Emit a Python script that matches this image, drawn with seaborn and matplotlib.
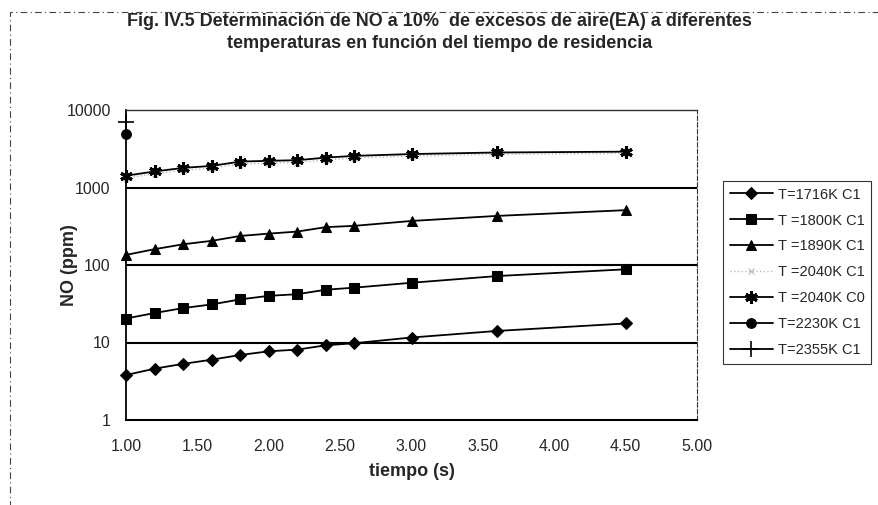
import matplotlib
matplotlib.use("Agg")
import matplotlib.pyplot as plt
import matplotlib.ticker as mticker
from matplotlib.patches import Rectangle
import seaborn as sns
import pandas as pd

tiempo = [1.0, 1.2, 1.4, 1.6, 1.8, 2.0, 2.2, 2.4, 2.6, 3.0, 3.6, 4.5]
no_1716_c1 = [3.8, 4.6, 5.3, 6.0, 6.9, 7.7, 8.1, 9.2, 9.8, 11.6, 14.1, 17.6]
no_1800_c1 = [20.4, 24, 27.8, 31, 36, 40, 42, 48, 51, 59, 72, 88]
no_1890_c1 = [135, 160, 185, 205, 237, 254, 270, 308, 320, 370, 430, 510]
no_2040_c1 = [1330, 1500, 1660, 1780, 2000, 2070, 2100, 2270, 2400, 2550, 2680, 2760]
no_2040_c0 = [1420, 1610, 1790, 1900, 2160, 2210, 2250, 2430, 2560, 2700, 2830, 2900]
tiempo_single = [1.0]
no_2230_c1 = [4900]
no_2355_c1 = [6900]

labels = ["T=1716K C1", "T =1800K C1", "T =1890K C1", "T =2040K C1",
          "T =2040K C0", "T=2230K C1", "T=2355K C1"]
x_ticks = [1.00, 1.50, 2.00, 2.50, 3.00, 3.50, 4.00, 4.50, 5.00]
y_ticks = [1, 10, 100, 1000, 10000]

sns.set_theme(style="white")
plt.rcParams['font.family'] = ['Liberation Sans', 'DejaVu Sans']

fig = plt.figure(figsize=(8.79, 5.05), dpi=100)
ax = fig.add_axes([126/879, 1-420/505, (697-126)/879, (420-110)/505])

series = [
    (tiempo, no_1716_c1, labels[0], dict(marker='D', markersize=6.5, color='black', linewidth=1.3)),
    (tiempo, no_1800_c1, labels[1], dict(marker='s', markersize=6.5, color='black', linewidth=1.3)),
    (tiempo, no_1890_c1, labels[2], dict(marker='^', markersize=7.5, color='black', linewidth=1.3)),
    (tiempo, no_2040_c1, labels[3], dict(marker='x', markersize=4, color='#bbbbbb', linewidth=1.0,
                                         linestyle=':', markeredgewidth=0.8)),
    (tiempo, no_2040_c0, labels[4], dict(marker=(6, 2, 0), markersize=9, color='black', linewidth=1.3,
                                         markeredgewidth=2.2)),
    (tiempo_single, no_2230_c1, labels[5], dict(marker='o', markersize=7, color='black', linewidth=1.3)),
    (tiempo_single, no_2355_c1, labels[6], dict(marker='+', markersize=11, color='black', linewidth=1.3,
                                                markeredgewidth=1.2)),
]

for xs, ys, lab, kw in series:
    df = pd.DataFrame({"tiempo": xs, "NO": ys})
    ls = kw.pop('linestyle', '-')
    sns.lineplot(data=df, x="tiempo", y="NO", ax=ax, label=lab, linestyle=ls,
                 markeredgecolor=kw['color'], markerfacecolor=kw['color'],
                 clip_on=False, zorder=3, **kw)

ax.set_yscale('log')
ax.set_xlim(1.0, 5.0)
ax.set_ylim(1, 10000)
ax.set_xticks(x_ticks)
ax.set_yticks(y_ticks)
ax.xaxis.set_major_formatter(mticker.FormatStrFormatter('%.2f'))
ax.yaxis.set_major_formatter(mticker.FuncFormatter(lambda v, p: f"{int(round(v))}"))
ax.yaxis.set_minor_locator(mticker.NullLocator())
ax.tick_params(axis='both', which='major', labelsize=11.5, direction='inout', length=6,
               width=1, color='black', pad=8)
ax.tick_params(axis='x', pad=11)

for yv in y_ticks[1:-1]:
    ax.axhline(yv, color='black', linewidth=1.5, zorder=0)

ax.spines['left'].set_color('black')
ax.spines['left'].set_linewidth(1.3)
ax.spines['bottom'].set_color('black')
ax.spines['bottom'].set_linewidth(1.5)
ax.spines['top'].set_color('#333333')
ax.spines['top'].set_linewidth(1.0)
ax.spines['right'].set_color('#333333')
ax.spines['right'].set_linewidth(0.8)
ax.spines['right'].set_linestyle((0, (4, 2)))

ax.set_xlabel("tiempo (s)", fontsize=13, fontweight='bold', labelpad=6)
ax.set_ylabel("NO (ppm)", fontsize=13, fontweight='bold')
ax.yaxis.set_label_coords((78-126)/571, 0.5)

fig.text(0.5, 1-22/505, "Fig. IV.5 Determinación de NO a 10%  de excesos de aire(EA) a diferentes",
         ha='center', va='center', fontsize=13, fontweight='bold')
fig.text(0.5, 1-43/505, "temperaturas en función del tiempo de residencia",
         ha='center', va='center', fontsize=13, fontweight='bold')

leg = ax.legend(loc='upper left', bbox_to_anchor=(723/879, 1-181/505),
                bbox_transform=fig.transFigure, frameon=True, fancybox=False,
                fontsize=10.5, handlelength=3.0, handletextpad=0.3, labelspacing=0.82,
                borderpad=0.45, borderaxespad=0)
leg.get_frame().set_edgecolor('black')
leg.get_frame().set_linewidth(0.8)

fig.patches.append(Rectangle((10/879, -0.02), 1.05, 1 - 12/505 + 0.02, transform=fig.transFigure,
                             fill=False, edgecolor='#444444', linewidth=0.8,
                             linestyle=(0, (6, 3, 1, 3)), figure=fig))

fig.savefig("out.png", dpi=100)
